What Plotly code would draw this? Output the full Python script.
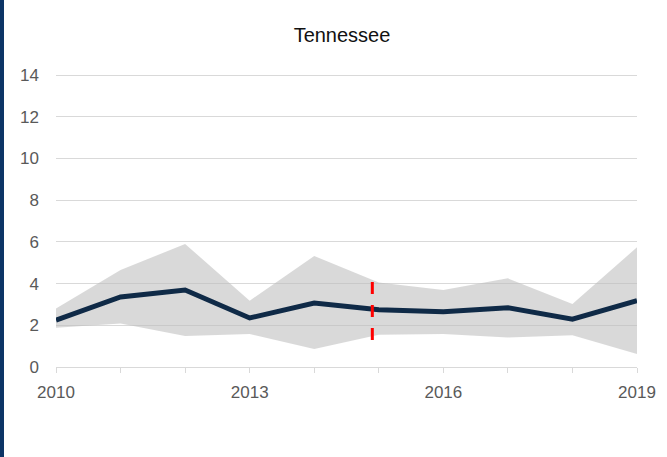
import plotly.graph_objects as go

years = [2010, 2011, 2012, 2013, 2014, 2015, 2016, 2017, 2018, 2019]
mean_vals = [2.25, 3.36, 3.69, 2.35, 3.07, 2.75, 2.65, 2.84, 2.29, 3.18]
upper_vals = [2.81, 4.65, 5.90, 3.18, 5.32, 4.05, 3.69, 4.25, 3.02, 5.74]
lower_vals = [1.88, 2.09, 1.49, 1.58, 0.86, 1.55, 1.58, 1.42, 1.52, 0.62]
cutoff_x = [2014.9, 2014.9]
cutoff_y = [1.3, 4.1]
tick_years = [2010, 2013, 2016, 2019]
y_ticks = [0, 2, 4, 6, 8, 10, 12, 14]

fig = go.Figure()

fig.add_trace(go.Scatter(
    x=years + years[::-1],
    y=upper_vals + lower_vals[::-1],
    fill="toself",
    fillcolor="rgba(190,190,190,0.58)",
    line=dict(width=0),
    mode="lines",
    hoverinfo="skip",
    showlegend=False,
))

fig.add_trace(go.Scatter(
    x=years, y=mean_vals,
    mode="lines",
    line=dict(color="#0f2a47", width=5),
    showlegend=False,
))

fig.add_trace(go.Scatter(
    x=cutoff_x, y=cutoff_y,
    mode="lines",
    line=dict(color="#ff0000", width=3, dash="12px,11px"),
    showlegend=False,
))

W, H = 667, 457
ml, mr, mt, mb = 56, 30, 74, 90
pw = W - ml - mr
ph = H - mt - mb

fig.add_shape(
    type="rect", xref="paper", yref="paper",
    x0=(0 - ml) / pw, x1=(4 - ml) / pw,
    y0=(ph - (H - mt)) / ph - 0.01, y1=(ph + mt) / ph + 0.01,
    fillcolor="#0d3566", line=dict(width=0), layer="above",
)

fig.update_layout(
    width=W, height=H,
    margin=dict(l=ml, r=mr, t=mt, b=mb),
    paper_bgcolor="white",
    plot_bgcolor="white",
    title=dict(
        text="Tennessee",
        x=(342 - ml) / pw, xref="paper", xanchor="center",
        y=1 - 35 / H, yanchor="middle",
        font=dict(family="Liberation Sans, Arial, sans-serif", size=20, color="#111111"),
    ),
    font=dict(family="Liberation Sans, Arial, sans-serif", size=17, color="#595959"),
    xaxis=dict(
        range=[2010, 2019],
        tickmode="array",
        tickvals=years,
        ticktext=[str(y) if y in tick_years else "" for y in years],
        ticks="outside", ticklen=5, tickcolor="#d9d9d9", tickwidth=1,
        showgrid=False, zeroline=False,
        showline=True, linecolor="#d9d9d9", linewidth=1,
        ticklabelstandoff=5,
        tickfont=dict(size=17, color="#595959"),
    ),
    yaxis=dict(
        range=[0, 14.05],
        tickmode="array",
        tickvals=y_ticks,
        showgrid=True, gridcolor="#d9d9d9", gridwidth=1,
        zeroline=False, showline=False,
        ticks="", ticklabelstandoff=16,
        tickfont=dict(size=17, color="#595959"),
    ),
)

fig.write_html("out.html")
